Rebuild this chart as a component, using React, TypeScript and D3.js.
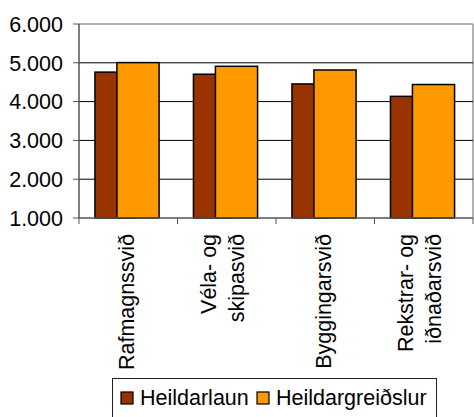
import React, { useLayoutEffect, useRef, useState } from "react";
import * as d3 from "d3";

const categories: string[][] = [
  ["Rafmagnssvið"],
  ["Véla- og", "skipasvið"],
  ["Byggingarsvið"],
  ["Rekstrar- og", "iðnaðarsvið"],
];
const heildarlaun = [4760, 4705, 4455, 4135];
const heildargreidslur = [5005, 4910, 4815, 4440];
const seriesNames = ["Heildarlaun", "Heildargreiðslur"];
const seriesColors = ["#993300", "#FF9900"];
const yTicks = [1000, 2000, 3000, 4000, 5000, 6000];

const W = 474;
const H = 417;
const left = 79;
const right = 473;
const top = 24;
const bottom = 218;
const FONT = "'Liberation Sans', Arial, sans-serif";
const FS = 21.5;
const LABEL_TARGET = 136; // rendered length of the first category label

const locale = d3.formatLocale({ decimal: ",", thousands: ".", grouping: [3], currency: ["", ""] });
const fmt = locale.format(",.0f");

export default function App() {
  const firstLabel = useRef<SVGTextElement | null>(null);
  const [scale, setScale] = useState(1);
  const [measured, setMeasured] = useState(0);

  useLayoutEffect(() => {
    if (firstLabel.current) {
      const len = firstLabel.current.getComputedTextLength();
      if (len > 0) {
        setMeasured(len);
        setScale(LABEL_TARGET / len);
      }
    }
  }, []);

  const x = d3.scaleBand<number>().domain(d3.range(categories.length)).range([left, right]).padding(0);
  const y = d3.scaleLinear().domain([1000, 6000]).range([bottom, top]);
  const bw = x.bandwidth();
  const barW = bw * 0.428;
  const offsets = [bw * 0.162, bw * 0.385];
  const series = [heildarlaun, heildargreidslur];

  return (
    <svg width={W} height={H} style={{ position: "absolute", left: 0, top: 0, background: "#fff" }} fontFamily={FONT} data-measured={measured}>
      <rect x={0} y={0} width={W} height={H} fill="#fff" />
      <line x1={left} x2={right} y1={top} y2={top} stroke="#999" strokeWidth={1.5} />
      <line x1={right} x2={right} y1={top} y2={bottom} stroke="#999" strokeWidth={1.5} />
      {yTicks.filter((t) => t > 1000 && t < 6000).map((t) => (
        <line key={t} x1={left} x2={right} y1={y(t)} y2={y(t)} stroke="#000" strokeWidth={1} />
      ))}
      {series.map((vals, si) =>
        vals.map((v, i) => (
          <rect
            key={si + "-" + i}
            x={(x(i) as number) + offsets[si]}
            y={y(v)}
            width={barW}
            height={y(1000) - y(v)}
            fill={seriesColors[si]}
            stroke="#000"
            strokeWidth={1.5}
          />
        ))
      )}
      <line x1={left} x2={left} y1={top} y2={bottom} stroke="#555" strokeWidth={1.5} />
      {yTicks.map((t) => (
        <g key={t}>
          <line x1={left - 6} x2={left} y1={y(t)} y2={y(t)} stroke="#555" strokeWidth={1} />
          <text x={63} y={y(t)} dy="0.36em" textAnchor="end" fontSize={FS} fill="#000">
            {fmt(t)}
          </text>
        </g>
      ))}
      <line x1={left} x2={right} y1={bottom} y2={bottom} stroke="#555" strokeWidth={1.5} />
      {d3.range(categories.length + 1).map((i) => {
        const xx = i < categories.length ? (x(i) as number) : right;
        return <line key={i} x1={xx} x2={xx} y1={bottom} y2={bottom + 6} stroke="#555" strokeWidth={1} />;
      })}
      {categories.map((lines, i) => {
        const cx = (x(i) as number) + bw / 2;
        return lines.map((ln, li) => {
          const bx = lines.length === 1 ? cx + 6 : cx - 11 + li * 28;
          return (
            <text
              key={i + "-" + li}
              ref={i === 0 && li === 0 ? firstLabel : undefined}
              transform={`translate(${bx},234) rotate(-90) scale(${scale},1)`}
              textAnchor="end"
              fontSize={FS}
              fill="#000"
            >
              {ln}
            </text>
          );
        });
      })}
      <rect x={112.5} y={378.5} width={324} height={60} fill="#fff" stroke="#222" strokeWidth={1} />
      {seriesNames.map((n, i) => {
        const sx = i === 0 ? 121 : 257;
        return (
          <g key={n}>
            <rect x={sx} y={392} width={12} height={12} fill={seriesColors[i]} stroke="#000" strokeWidth={1.2} />
            <text x={sx + 19} y={405} fontSize={FS} fill="#000">
              {n}
            </text>
          </g>
        );
      })}
    </svg>
  );
}
